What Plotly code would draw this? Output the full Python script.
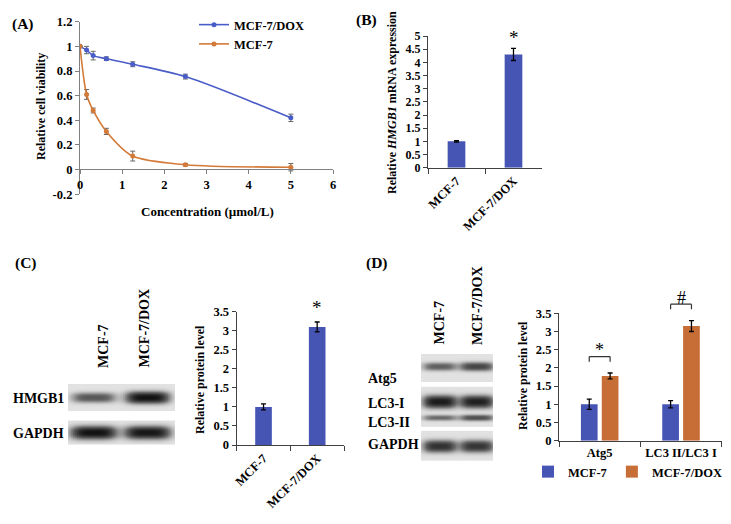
import numpy as np
import plotly.graph_objects as go

W, H = 731, 524
FONT = "Liberation Serif, Times New Roman, serif"

# ---------------- data ----------------
# Panel A: cell viability vs concentration
conc = [0, 0.156, 0.3125, 0.625, 1.25, 2.5, 5]
via_dox = [1.0, 0.97, 0.925, 0.90, 0.855, 0.755, 0.42]
via_dox_err = [0, 0.03, 0.035, 0.015, 0.02, 0.02, 0.03]
via_mcf = [1.0, 0.61, 0.48, 0.31, 0.11, 0.04, 0.02]
via_mcf_err = [0, 0.04, 0.02, 0.025, 0.04, 0.01, 0.03]
a_xticks = [0, 1, 2, 3, 4, 5, 6]
a_yticks = [-0.2, 0, 0.2, 0.4, 0.6, 0.8, 1.0, 1.2]
a_yticklabels = ["-0.2", "0", "0.2", "0.4", "0.6", "0.8", "1", "1.2"]

# Panel B: HMGB1 mRNA
cells = ["MCF-7", "MCF-7/DOX"]
mrna = [1.0, 4.3]
mrna_err = [0.03, 0.23]
b_yticks = [0, 0.5, 1, 1.5, 2, 2.5, 3, 3.5, 4, 4.5, 5]
b_yticklabels = ["0", "0.5", "1", "1.5", "2", "2.5", "3", "3.5", "4", "4.5", "5"]

# Panel C: HMGB1 protein
hmgb1_protein = [1.0, 3.1]
hmgb1_protein_err = [0.08, 0.13]
cd_yticks = [0, 0.5, 1, 1.5, 2, 2.5, 3, 3.5]
cd_yticklabels = ["0", "0.5", "1", "1.5", "2", "2.5", "3", "3.5"]
blot_c_hmgb1 = [0.6, 1.0]
blot_c_gapdh = [1.0, 0.98]

# Panel D: autophagy markers
d_categories = ["Atg5", "LC3 II/LC3 I"]
d_mcf = [1.0, 1.0]
d_mcf_err = [0.14, 0.10]
d_dox = [1.78, 3.15]
d_dox_err = [0.08, 0.15]
blot_d_atg5 = [0.55, 0.7]
blot_d_lc3i = [0.95, 0.92]
blot_d_lc3ii = [0.5, 0.65]
blot_d_gapdh = [0.82, 0.8]

# ---------------- styles ----------------
BLUE = "#4654B4"
ORANGE = "#C66E35"
LBLUE = "#4A5CC8"
LORANGE = "#D47A38"
BLOT_SCALE = [[0, "rgb(226,226,226)"], [0.5, "rgb(105,105,105)"], [1, "rgb(18,18,18)"]]
BARGAP_D = 0.487
BARGROUPGAP_D = 0.2


def px(x):
    return x / W


def py(y):
    return 1 - y / H


def bfont(size, color="black"):
    return dict(family=FONT, size=size, color=color, weight="bold")


# subplot geometry (paper fractions) and value ranges
B_DOM_Y, B_RANGE = [py(167.7), py(36)], [0, 5]
C_DOM_Y, C_RANGE = [py(445), py(311.7)], [0, 3.5]
D_DOM_Y, D_RANGE = [py(440.7), py(313.3)], [0, 3.5]


def to_paper(dom, rng, v):
    return dom[0] + (v - rng[0]) / (rng[1] - rng[0]) * (dom[1] - dom[0])


fig = go.Figure()

# ---------------- Panel A ----------------
fig.add_trace(go.Scatter(
    x=conc, y=via_dox, name="MCF-7/DOX", mode="lines+markers",
    line=dict(color=LBLUE, width=1.6, shape="spline", smoothing=0.8),
    marker=dict(size=5, color=LBLUE),
    error_y=dict(type="data", array=via_dox_err, color="#666666", thickness=1, width=2.5),
    xaxis="x", yaxis="y", legend="legend"))
fig.add_trace(go.Scatter(
    x=conc, y=via_mcf, name="MCF-7", mode="lines+markers",
    line=dict(color=LORANGE, width=1.6, shape="spline", smoothing=0.8),
    marker=dict(size=5, color=LORANGE),
    error_y=dict(type="data", array=via_mcf_err, color="#666666", thickness=1, width=2.5),
    xaxis="x", yaxis="y", legend="legend"))

# ---------------- Panel B ----------------
fig.add_trace(go.Bar(
    x=cells, y=mrna, width=0.31, marker=dict(color=BLUE, line=dict(width=0)),
    error_y=dict(type="data", array=mrna_err, color="black", thickness=1.3, width=2.5),
    xaxis="x2", yaxis="y2", showlegend=False))

# ---------------- Panel C ----------------
fig.add_trace(go.Bar(
    x=cells, y=hmgb1_protein, width=0.31, marker=dict(color=BLUE, line=dict(width=0)),
    error_y=dict(type="data", array=hmgb1_protein_err, color="black", thickness=1.3, width=2.5),
    xaxis="x3", yaxis="y3", showlegend=False))

# ---------------- Panel D ----------------
fig.add_trace(go.Bar(
    x=d_categories, y=d_mcf, name="MCF-7", marker=dict(color=BLUE, line=dict(width=0)),
    error_y=dict(type="data", array=d_mcf_err, color="black", thickness=1.3, width=2.5),
    xaxis="x4", yaxis="y4", legend="legend2"))
fig.add_trace(go.Bar(
    x=d_categories, y=d_dox, name="MCF-7/DOX", marker=dict(color=ORANGE, line=dict(width=0)),
    error_y=dict(type="data", array=d_dox_err, color="black", thickness=1.3, width=2.5),
    xaxis="x4", yaxis="y4", legend="legend2"))


# ---------------- Blots ----------------
def blot_trace(xa, ya, top, bottom, bands, centers, halfw):
    xs = np.linspace(0, 1, 160)
    ys = np.linspace(top, bottom, int((bottom - top) * 3) + 1)
    Z = np.zeros((len(ys), len(xs)))
    for yc, th, vals in bands:
        for xc, v in zip(centers, vals):
            prof_x = np.exp(-np.abs((xs - xc) / halfw) ** 4)
            t = th * (0.7 + 0.5 * v)
            prof_y = np.exp(-np.abs((ys - yc) / t) ** 2.5)
            Z += v * np.outer(prof_y, prof_x)
    Z = np.clip(Z, 0, 1)
    return go.Heatmap(x=xs, y=ys, z=Z, xaxis=xa, yaxis=ya, zmin=0, zmax=1,
                      colorscale=BLOT_SCALE, showscale=False, hoverinfo="skip",
                      zsmooth="best")


C_LANES = [0.24, 0.74]
D_LANES = [0.26, 0.77]
fig.add_trace(blot_trace("x5", "y5", 384, 411, [(397.5, 5.0, blot_c_hmgb1)], C_LANES, 0.205))
fig.add_trace(blot_trace("x5", "y5", 420.7, 445, [(432.5, 5.5, blot_c_gapdh)], C_LANES, 0.215))
fig.add_trace(blot_trace("x6", "y6", 354, 381.7, [(366.5, 4.2, blot_d_atg5)], D_LANES, 0.235))
fig.add_trace(blot_trace("x6", "y6", 387, 426.7,
                         [(401.5, 5.5, blot_d_lc3i), (417.5, 3.0, blot_d_lc3ii)], D_LANES, 0.235))
fig.add_trace(blot_trace("x6", "y6", 431, 460.7, [(446, 5.5, blot_d_gapdh)], D_LANES, 0.235))

# ---------------- axes ----------------
A_AX = "#808080"
AX = "#404040"
tickf = bfont(12.5)

common = dict(showgrid=False, zeroline=False, automargin=False)
layout_axes = dict(
    xaxis=dict(domain=[px(80), px(333)], range=[0, 6], tickvals=a_xticks,
               anchor="free", position=py(169.3), showline=True, linecolor=A_AX, linewidth=1.2,
               ticks="outside", ticklen=4, tickcolor=A_AX, tickfont=tickf, **common),
    yaxis=dict(domain=[py(194.3), py(21.7)], range=[-0.2, 1.2], tickvals=a_yticks,
               ticktext=a_yticklabels, anchor="x", showline=True, linecolor=A_AX, linewidth=1.2,
               ticks="outside", ticklen=4, tickcolor=A_AX, tickfont=tickf, **common),
    xaxis2=dict(domain=[px(428), px(542)], anchor="y2", type="category", tickangle=-45,
                showline=True, linecolor=AX, linewidth=1.2, ticks="outside", ticklen=5,
                tickcolor=AX, tickson="boundaries", tickfont=tickf, **common),
    yaxis2=dict(domain=B_DOM_Y, range=B_RANGE, anchor="x2", tickvals=b_yticks,
                ticktext=b_yticklabels, showline=True, linecolor=AX, linewidth=1.2,
                ticks="outside", ticklen=4, tickcolor=AX, tickfont=bfont(12), **common),
    xaxis3=dict(domain=[px(236.7), px(344)], anchor="y3", type="category", tickangle=-45,
                showline=True, linecolor=AX, linewidth=1.2, ticks="outside", ticklen=5,
                tickcolor=AX, tickson="boundaries", tickfont=tickf, **common),
    yaxis3=dict(domain=C_DOM_Y, range=C_RANGE, anchor="x3", tickvals=cd_yticks,
                ticktext=cd_yticklabels, showline=True, linecolor=AX, linewidth=1.2,
                ticks="outside", ticklen=4, tickcolor=AX, tickfont=tickf, **common),
    xaxis4=dict(domain=[px(559), px(721.7)], anchor="y4", type="category",
                showline=True, linecolor=AX, linewidth=1.2, ticks="outside", ticklen=5,
                tickcolor=AX, tickson="boundaries", tickfont=tickf, **common),
    yaxis4=dict(domain=D_DOM_Y, range=D_RANGE, anchor="x4", tickvals=cd_yticks,
                ticktext=cd_yticklabels, showline=True, linecolor=AX, linewidth=1.2,
                ticks="outside", ticklen=4, tickcolor=AX, tickfont=tickf, **common),
    xaxis5=dict(domain=[px(68), px(175)], range=[0, 1], anchor="y5", visible=False, automargin=False),
    yaxis5=dict(domain=[py(445), py(384)], range=[445, 384], anchor="x5", visible=False, automargin=False),
    xaxis6=dict(domain=[px(421), px(493.3)], range=[0, 1], anchor="y6", visible=False, automargin=False),
    yaxis6=dict(domain=[py(460.7), py(354)], range=[460.7, 354], anchor="x6", visible=False, automargin=False),
)

# ---------------- annotations ----------------
ann = []


def txt(x, y, s, size=12, angle=0, xa="center", ya="middle", xref="paper", yref="paper", font=None):
    ann.append(dict(x=x, y=y, text=s, showarrow=False, textangle=angle, xanchor=xa, yanchor=ya,
                    xref=xref, yref=yref, font=font or bfont(size)))


# panel labels
txt(px(23), py(24), "(A)", 15.5)
txt(px(367), py(20), "(B)", 15.5)
txt(px(26), py(263), "(C)", 15.5)
txt(px(377), py(263), "(D)", 15.5)

# axis titles
txt(px(41), py(107), "Relative cell viability", 12, -90)
txt(px(207), py(211), "Concentration (µmol/L)", 13)
txt(px(392), py(103), "Relative <i>HMGB1</i> mRNA expression", 12, -90)
txt(px(200), py(380), "Relative protein level", 12, -90)
txt(px(523), py(376), "Relative protein level", 12, -90)

# significance marks
star_font = dict(family=FONT, size=19, color="black")
txt(cells[1], to_paper(B_DOM_Y, B_RANGE, mrna[1] + mrna_err[1] + 0.4), "*", xref="x2", font=star_font)
txt(cells[1], to_paper(C_DOM_Y, C_RANGE, hmgb1_protein[1] + hmgb1_protein_err[1] + 0.38), "*",
    xref="x3", font=star_font)

half = (1 - BARGAP_D) / 4
shapes = []
marks = ["*", "#"]
for i, cat in enumerate(d_categories):
    top = max(d_mcf[i] + d_mcf_err[i], d_dox[i] + d_dox_err[i]) + 0.45
    yt = to_paper(D_DOM_Y, D_RANGE, top)
    yb = to_paper(D_DOM_Y, D_RANGE, top - 0.14)
    x0, x1 = i - half, i + half
    for (xa0, ya0, xa1, ya1) in [(x0, yt, x1, yt), (x0, yt, x0, yb), (x1, yt, x1, yb)]:
        shapes.append(dict(type="line", xref="x4", yref="paper", x0=xa0, y0=ya0, x1=xa1, y1=ya1,
                           line=dict(color="#333333", width=1.2)))
    txt(i, to_paper(D_DOM_Y, D_RANGE, top + 0.17), marks[i], xref="x4",
        font=dict(family=FONT, size=18, color="black"))

# blot labels C
txt(px(66), py(398), "HMGB1", 14, xa="right")
txt(px(66), py(433), "GAPDH", 14, xa="right")
txt(px(103), py(370), "MCF-7", 14, -90, ya="bottom")
txt(px(144), py(370), "MCF-7/DOX", 14, -90, ya="bottom")
# blot labels D
txt(px(366), py(378), "Atg5", 14, xa="left")
txt(px(366), py(403), "LC3-I", 14, xa="left")
txt(px(366), py(422), "LC3-II", 14, xa="left")
txt(px(366), py(444), "GAPDH", 14, xa="left")
txt(px(438.5), py(347), "MCF-7", 14, -90, ya="bottom")
txt(px(477.5), py(347), "MCF-7/DOX", 14, -90, ya="bottom")

fig.update_layout(
    width=W, height=H, margin=dict(l=0, r=0, t=0, b=0, autoexpand=False),
    paper_bgcolor="white", plot_bgcolor="white",
    font=dict(family=FONT, color="black"),
    barmode="group", bargap=BARGAP_D, bargroupgap=BARGROUPGAP_D,
    legend=dict(x=px(194), y=py(10), xanchor="left", yanchor="top", font=bfont(12.5),
                bgcolor="rgba(0,0,0,0)", tracegroupgap=0, itemwidth=30),
    legend2=dict(x=px(727), y=py(472), xanchor="right", yanchor="middle", orientation="h",
                 font=bfont(12.5), bgcolor="rgba(0,0,0,0)", itemwidth=30),
    annotations=ann, shapes=shapes,
    **layout_axes,
)

fig.write_html("out.html", config={"displayModeBar": False},
               post_script="document.body.style.margin='0';")
